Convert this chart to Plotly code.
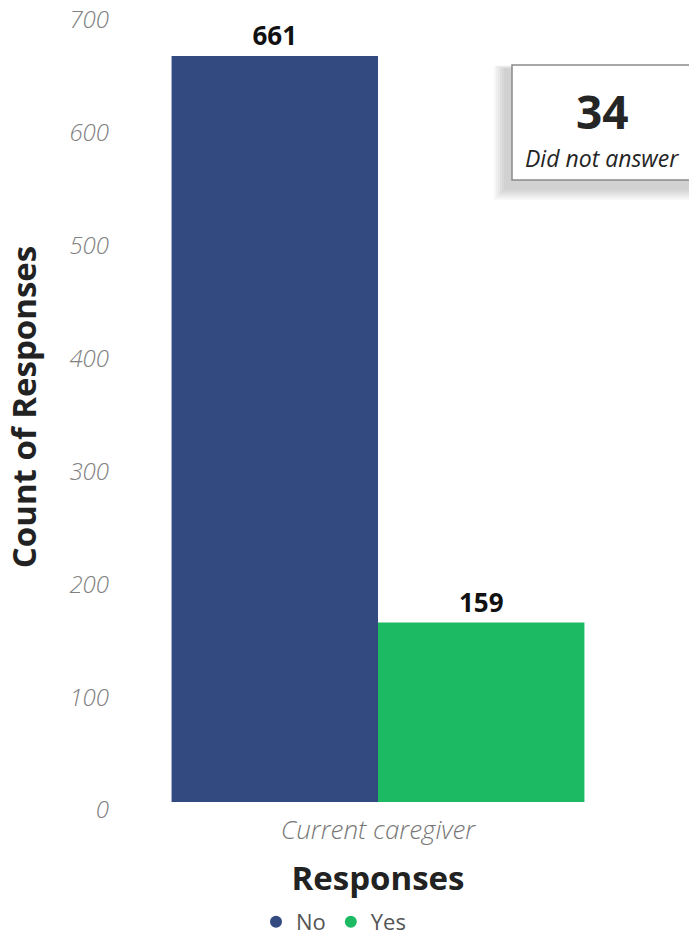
import plotly.graph_objects as go

categories = ["Current caregiver"]
series_names = ["No", "Yes"]
no_values = [661]
yes_values = [159]
did_not_answer = 34
y_ticks = [0, 100, 200, 300, 400, 500, 600, 700]

colors = {"No": "#324A80", "Yes": "#1DBA64"}
FONT = "Open Sans, Noto Sans, sans-serif"

W, H = 689, 938
L, R, T, B = 118, 51, 12, 136
pw, ph = W - L - R, H - T - B

def px_x(p):
    return (p - L) / pw

def px_y(p):
    return (H - B - p) / ph

fig = go.Figure()
for name, vals in zip(series_names, [no_values, yes_values]):
    fig.add_trace(go.Bar(
        x=categories, y=vals, name=name, marker_color=colors[name],
        marker_line_width=0,
        text=[str(v) for v in vals], textposition="outside",
        textfont=dict(family=FONT, size=26, color="#111111", weight="bold"),
        cliponaxis=False, showlegend=False,
    ))
    fig.add_trace(go.Scatter(
        x=[None], y=[None], mode="markers", name=name,
        marker=dict(symbol="circle", size=15, color=colors[name]),
        showlegend=True,
    ))

# card shadow (soft, offset down-left)
cx0, cx1, cy0, cy1 = 512, 700, 65, 180
for i in range(6):
    d = 12 - i * 2
    fig.add_shape(type="rect", xref="paper", yref="paper",
                  x0=px_x(cx0 - 6 - d), x1=px_x(cx1), y0=px_y(cy1 + 8 + d), y1=px_y(cy0 + 4 - d * 0.3),
                  fillcolor="black", opacity=0.03, line_width=0, layer="above")
fig.add_shape(type="rect", xref="paper", yref="paper",
              x0=px_x(cx0), x1=px_x(cx1), y0=px_y(cy1), y1=px_y(cy0),
              fillcolor="white", line=dict(color="#8a8a8a", width=1.5), layer="above")
fig.add_annotation(xref="paper", yref="paper", x=px_x(602), y=px_y(111),
                   xanchor="center", yanchor="middle",
                   text=f"<b>{did_not_answer}</b>", showarrow=False,
                   font=dict(family=FONT, size=46, color="#252525"))
fig.add_annotation(xref="paper", yref="paper", x=px_x(602), y=px_y(158),
                   xanchor="center", yanchor="middle",
                   text="<i>Did not answer</i>", showarrow=False,
                   font=dict(family=FONT, size=23, color="#252525"))

fig.update_layout(
    width=W, height=H,
    margin=dict(l=L, r=R, t=T, b=B, autoexpand=False),
    paper_bgcolor="white", plot_bgcolor="white",
    barmode="group", bargap=0.206, bargroupgap=0,
    font=dict(family=FONT),
    xaxis=dict(
        title=dict(text="<b>Responses</b>", font=dict(size=33, color="#222222"), standoff=20),
        tickfont=dict(size=26, color="#777777", style="italic", weight=300),
        showline=False, showgrid=False, ticks="", ticklabelstandoff=10,
    ),
    yaxis=dict(
        title=dict(text="<b>Count of Responses</b>", font=dict(size=33, color="#222222"), standoff=22),
        range=[0, 700], tickvals=y_ticks,
        tickfont=dict(size=24, color="#808080", style="italic", weight=300),
        showgrid=False, zeroline=False, showline=False, ticks="",
        ticklabelstandoff=8, ticklabelshift=8,
    ),
    legend=dict(orientation="h", x=px_x(256), xanchor="left", y=px_y(943), yanchor="bottom",
                font=dict(size=22, color="#555555"), itemwidth=30,
                tracegroupgap=0, itemsizing="constant", bgcolor="rgba(0,0,0,0)",
                borderwidth=0),
)

fig.write_html("out.html", config={"displayModeBar": False},
               post_script="document.body.style.margin='0';document.body.style.overflow='hidden';")
